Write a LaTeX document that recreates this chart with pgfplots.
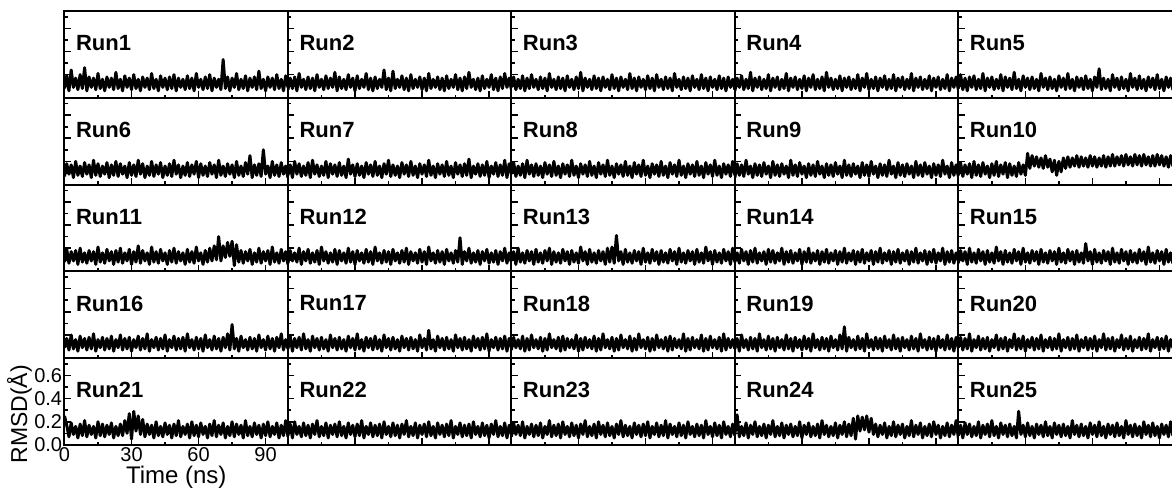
\documentclass[border=0pt]{standalone}
\usepackage{pgfplots}
\pgfplotsset{compat=1.18}
\usepackage{pgfplotstable}
\usepgfplotslibrary{groupplots}
\usetikzlibrary{calc}
\usepackage{fontspec}
\setmainfont{Liberation Sans}

% RMSD traces, one table per row of panels (columns a..e = five runs)
\pgfplotstableread{
t a b c d e
0 0.08 0.07 0.09 0.06 0.08
1 0.19 0.17 0.18 0.17 0.20
2 0.06 0.08 0.07 0.09 0.07
3 0.24 0.18 0.16 0.19 0.17
4 0.09 0.06 0.08 0.07 0.06
5 0.17 0.21 0.19 0.16 0.18
6 0.07 0.09 0.06 0.08 0.09
7 0.20 0.16 0.17 0.22 0.19
8 0.08 0.07 0.08 0.06 0.07
9 0.26 0.18 0.20 0.17 0.16
10 0.06 0.08 0.09 0.09 0.08
11 0.18 0.17 0.16 0.18 0.21
12 0.09 0.06 0.07 0.07 0.06
13 0.17 0.20 0.18 0.16 0.17
14 0.07 0.09 0.08 0.08 0.09
15 0.21 0.16 0.17 0.20 0.18
16 0.08 0.07 0.06 0.06 0.07
17 0.16 0.19 0.21 0.17 0.16
18 0.06 0.08 0.09 0.09 0.08
19 0.18 0.17 0.16 0.18 0.20
20 0.09 0.09 0.07 0.07 0.06
21 0.17 0.22 0.18 0.16 0.18
22 0.07 0.06 0.08 0.08 0.09
23 0.22 0.18 0.17 0.21 0.17
24 0.08 0.08 0.06 0.06 0.07
25 0.16 0.16 0.19 0.17 0.22
26 0.06 0.07 0.09 0.09 0.08
27 0.19 0.20 0.16 0.18 0.16
28 0.09 0.09 0.07 0.07 0.06
29 0.17 0.17 0.18 0.16 0.19
30 0.07 0.06 0.08 0.08 0.09
31 0.20 0.19 0.22 0.19 0.17
32 0.08 0.08 0.06 0.06 0.07
33 0.16 0.16 0.17 0.17 0.18
34 0.06 0.09 0.09 0.09 0.08
35 0.18 0.21 0.16 0.20 0.16
36 0.09 0.07 0.07 0.07 0.06
37 0.17 0.17 0.19 0.16 0.21
38 0.07 0.06 0.08 0.08 0.09
39 0.21 0.18 0.17 0.18 0.17
40 0.08 0.08 0.06 0.06 0.07
41 0.16 0.16 0.18 0.22 0.18
42 0.06 0.09 0.09 0.09 0.08
43 0.19 0.24 0.16 0.17 0.16
44 0.09 0.07 0.07 0.07 0.06
45 0.17 0.17 0.20 0.16 0.19
46 0.07 0.06 0.08 0.08 0.09
47 0.18 0.23 0.17 0.19 0.17
48 0.08 0.08 0.06 0.06 0.07
49 0.20 0.16 0.18 0.17 0.21
50 0.06 0.09 0.09 0.09 0.08
51 0.17 0.19 0.16 0.18 0.16
52 0.09 0.07 0.07 0.07 0.06
53 0.16 0.17 0.21 0.16 0.18
54 0.07 0.06 0.08 0.08 0.09
55 0.19 0.20 0.17 0.20 0.17
56 0.08 0.08 0.06 0.06 0.07
57 0.17 0.16 0.18 0.17 0.19
58 0.06 0.09 0.09 0.09 0.08
59 0.21 0.18 0.16 0.21 0.16
60 0.09 0.07 0.07 0.07 0.06
61 0.16 0.17 0.19 0.16 0.18
62 0.07 0.06 0.08 0.08 0.09
63 0.18 0.21 0.17 0.18 0.25
64 0.08 0.08 0.06 0.06 0.07
65 0.20 0.16 0.20 0.17 0.17
66 0.06 0.09 0.09 0.09 0.08
67 0.17 0.18 0.16 0.19 0.16
68 0.09 0.07 0.07 0.07 0.06
69 0.16 0.17 0.18 0.16 0.20
70 0.07 0.06 0.08 0.08 0.09
71 0.33 0.19 0.17 0.20 0.17
72 0.08 0.08 0.06 0.06 0.07
73 0.18 0.16 0.21 0.17 0.18
74 0.06 0.09 0.09 0.09 0.08
75 0.17 0.20 0.16 0.18 0.16
76 0.09 0.07 0.07 0.07 0.06
77 0.21 0.17 0.18 0.16 0.21
78 0.07 0.06 0.08 0.08 0.09
79 0.16 0.18 0.17 0.21 0.17
80 0.08 0.08 0.06 0.06 0.07
81 0.19 0.22 0.19 0.17 0.19
82 0.06 0.09 0.09 0.09 0.08
83 0.17 0.16 0.16 0.18 0.16
84 0.09 0.07 0.07 0.07 0.06
85 0.18 0.17 0.20 0.16 0.18
86 0.07 0.06 0.08 0.08 0.09
87 0.23 0.19 0.17 0.19 0.17
88 0.08 0.08 0.06 0.06 0.07
89 0.16 0.16 0.18 0.17 0.20
90 0.06 0.09 0.09 0.09 0.08
91 0.18 0.20 0.16 0.18 0.16
92 0.09 0.07 0.07 0.07 0.06
93 0.17 0.17 0.19 0.16 0.18
94 0.07 0.06 0.08 0.08 0.09
95 0.20 0.18 0.17 0.20 0.17
96 0.08 0.08 0.06 0.06 0.07
97 0.16 0.21 0.18 0.17 0.19
98 0.06 0.09 0.09 0.09 0.08
99 0.19 0.17 0.16 0.18 0.16
100 0.09 0.07 0.07 0.07 0.06
}\rowA

\pgfplotstableread{
t a b c d e
0 0.07 0.08 0.09 0.06 0.08
1 0.18 0.17 0.19 0.18 0.19
2 0.09 0.06 0.07 0.08 0.07
3 0.17 0.20 0.16 0.17 0.17
4 0.06 0.09 0.08 0.07 0.09
5 0.20 0.18 0.18 0.21 0.18
6 0.08 0.07 0.06 0.09 0.06
7 0.16 0.16 0.21 0.16 0.20
8 0.07 0.08 0.09 0.06 0.08
9 0.19 0.19 0.17 0.18 0.17
10 0.09 0.06 0.07 0.08 0.07
11 0.17 0.21 0.18 0.17 0.19
12 0.06 0.09 0.08 0.07 0.09
13 0.21 0.17 0.16 0.19 0.16
14 0.08 0.07 0.06 0.09 0.06
15 0.18 0.16 0.19 0.16 0.18
16 0.07 0.08 0.09 0.06 0.08
17 0.16 0.20 0.17 0.20 0.20
18 0.09 0.06 0.07 0.08 0.07
19 0.19 0.18 0.20 0.17 0.17
20 0.06 0.09 0.08 0.07 0.09
21 0.17 0.17 0.16 0.18 0.19
22 0.08 0.07 0.06 0.09 0.06
23 0.20 0.19 0.18 0.16 0.18
24 0.07 0.08 0.09 0.06 0.08
25 0.18 0.16 0.17 0.21 0.16
26 0.09 0.06 0.07 0.08 0.07
27 0.16 0.22 0.21 0.17 0.19
28 0.06 0.09 0.08 0.07 0.09
29 0.19 0.17 0.16 0.19 0.17
30 0.08 0.07 0.06 0.09 0.08
31 0.17 0.18 0.18 0.16 0.27
32 0.07 0.08 0.09 0.06 0.14
33 0.21 0.16 0.17 0.18 0.25
34 0.09 0.06 0.07 0.08 0.16
35 0.18 0.19 0.20 0.17 0.24
36 0.06 0.09 0.08 0.07 0.15
37 0.16 0.17 0.16 0.20 0.23
38 0.08 0.07 0.06 0.09 0.14
39 0.20 0.20 0.19 0.16 0.25
40 0.07 0.08 0.09 0.06 0.15
41 0.17 0.16 0.17 0.18 0.22
42 0.09 0.06 0.07 0.08 0.11
43 0.19 0.18 0.21 0.17 0.21
44 0.06 0.09 0.08 0.07 0.08
45 0.16 0.21 0.16 0.19 0.20
46 0.08 0.07 0.06 0.09 0.11
47 0.18 0.17 0.18 0.16 0.23
48 0.07 0.08 0.09 0.06 0.14
49 0.21 0.16 0.17 0.21 0.24
50 0.09 0.06 0.07 0.08 0.15
51 0.17 0.19 0.20 0.17 0.23
52 0.06 0.09 0.08 0.07 0.16
53 0.16 0.17 0.16 0.18 0.25
54 0.08 0.07 0.06 0.09 0.15
55 0.19 0.20 0.19 0.16 0.24
56 0.07 0.08 0.09 0.06 0.16
57 0.17 0.16 0.17 0.19 0.23
58 0.09 0.06 0.07 0.08 0.15
59 0.20 0.18 0.21 0.17 0.25
60 0.06 0.09 0.08 0.07 0.16
61 0.18 0.17 0.16 0.20 0.24
62 0.08 0.07 0.06 0.09 0.15
63 0.16 0.21 0.18 0.16 0.23
64 0.07 0.08 0.09 0.06 0.16
65 0.19 0.16 0.17 0.18 0.25
66 0.09 0.06 0.07 0.08 0.15
67 0.17 0.18 0.20 0.17 0.24
68 0.06 0.09 0.08 0.07 0.16
69 0.21 0.17 0.16 0.21 0.26
70 0.08 0.07 0.06 0.09 0.16
71 0.16 0.20 0.19 0.16 0.24
72 0.07 0.08 0.09 0.06 0.17
73 0.18 0.16 0.17 0.19 0.25
74 0.09 0.06 0.07 0.08 0.16
75 0.17 0.19 0.21 0.17 0.26
76 0.06 0.09 0.08 0.07 0.17
77 0.20 0.17 0.16 0.18 0.24
78 0.08 0.07 0.06 0.09 0.16
79 0.16 0.18 0.18 0.16 0.26
80 0.07 0.08 0.09 0.06 0.17
81 0.19 0.22 0.17 0.20 0.25
82 0.09 0.06 0.07 0.08 0.16
83 0.25 0.16 0.20 0.17 0.26
84 0.06 0.09 0.08 0.07 0.17
85 0.17 0.18 0.16 0.19 0.24
86 0.08 0.07 0.06 0.09 0.16
87 0.18 0.17 0.19 0.16 0.25
88 0.07 0.08 0.09 0.06 0.16
89 0.30 0.20 0.17 0.18 0.26
90 0.09 0.06 0.07 0.08 0.17
91 0.16 0.16 0.21 0.17 0.25
92 0.06 0.09 0.08 0.07 0.16
93 0.20 0.19 0.16 0.21 0.24
94 0.08 0.07 0.06 0.09 0.15
95 0.17 0.17 0.18 0.16 0.25
96 0.07 0.08 0.09 0.06 0.16
97 0.19 0.21 0.17 0.19 0.24
98 0.09 0.06 0.07 0.08 0.15
99 0.16 0.18 0.20 0.17 0.25
100 0.06 0.09 0.08 0.07 0.16
}\rowB

\pgfplotstableread{
t a b c d e
0 0.08 0.07 0.09 0.08 0.07
1 0.19 0.18 0.17 0.16 0.18
2 0.07 0.09 0.06 0.07 0.09
3 0.17 0.16 0.20 0.19 0.17
4 0.09 0.08 0.08 0.09 0.06
5 0.18 0.20 0.16 0.17 0.20
6 0.06 0.06 0.07 0.06 0.08
7 0.20 0.17 0.18 0.18 0.16
8 0.08 0.09 0.09 0.08 0.07
9 0.16 0.19 0.17 0.20 0.19
10 0.07 0.07 0.06 0.07 0.09
11 0.18 0.16 0.19 0.16 0.17
12 0.09 0.08 0.08 0.09 0.06
13 0.17 0.18 0.16 0.17 0.18
14 0.06 0.06 0.07 0.06 0.08
15 0.21 0.21 0.18 0.19 0.16
16 0.08 0.09 0.09 0.08 0.07
17 0.16 0.17 0.20 0.18 0.21
18 0.07 0.07 0.06 0.07 0.09
19 0.19 0.16 0.17 0.16 0.17
20 0.09 0.08 0.08 0.09 0.06
21 0.17 0.19 0.16 0.20 0.18
22 0.06 0.06 0.07 0.06 0.08
23 0.18 0.18 0.19 0.17 0.16
24 0.08 0.09 0.09 0.08 0.07
25 0.20 0.16 0.17 0.18 0.19
26 0.07 0.07 0.06 0.07 0.09
27 0.16 0.20 0.18 0.16 0.17
28 0.09 0.08 0.08 0.09 0.06
29 0.19 0.17 0.16 0.19 0.20
30 0.06 0.06 0.07 0.06 0.08
31 0.17 0.18 0.21 0.17 0.16
32 0.08 0.09 0.09 0.08 0.07
33 0.22 0.16 0.17 0.20 0.18
34 0.07 0.07 0.06 0.07 0.09
35 0.18 0.19 0.19 0.16 0.17
36 0.09 0.08 0.08 0.09 0.06
37 0.16 0.17 0.16 0.18 0.19
38 0.06 0.06 0.07 0.06 0.08
39 0.21 0.21 0.18 0.17 0.16
40 0.08 0.09 0.09 0.08 0.07
41 0.17 0.16 0.17 0.19 0.18
42 0.07 0.07 0.06 0.07 0.09
43 0.19 0.18 0.20 0.16 0.17
44 0.09 0.08 0.08 0.09 0.06
45 0.16 0.17 0.21 0.18 0.20
46 0.06 0.06 0.07 0.06 0.08
47 0.18 0.19 0.31 0.17 0.16
48 0.08 0.09 0.09 0.08 0.07
49 0.20 0.16 0.17 0.20 0.19
50 0.07 0.07 0.06 0.07 0.09
51 0.17 0.18 0.19 0.16 0.17
52 0.09 0.08 0.08 0.09 0.06
53 0.16 0.20 0.16 0.18 0.18
54 0.06 0.06 0.07 0.06 0.08
55 0.19 0.17 0.18 0.17 0.16
56 0.08 0.09 0.09 0.08 0.07
57 0.17 0.16 0.17 0.19 0.24
58 0.07 0.07 0.06 0.07 0.09
59 0.21 0.19 0.20 0.16 0.17
60 0.09 0.08 0.08 0.09 0.06
61 0.16 0.17 0.16 0.18 0.19
62 0.06 0.06 0.07 0.06 0.08
63 0.18 0.21 0.19 0.17 0.16
64 0.08 0.09 0.09 0.08 0.07
65 0.20 0.16 0.17 0.20 0.18
66 0.09 0.07 0.06 0.07 0.09
67 0.22 0.18 0.18 0.16 0.17
68 0.10 0.08 0.08 0.09 0.06
69 0.30 0.17 0.16 0.18 0.20
70 0.09 0.06 0.07 0.06 0.08
71 0.22 0.19 0.19 0.17 0.16
72 0.12 0.09 0.09 0.08 0.07
73 0.25 0.16 0.17 0.19 0.19
74 0.13 0.07 0.06 0.07 0.09
75 0.26 0.18 0.20 0.16 0.17
76 0.05 0.08 0.08 0.09 0.06
77 0.23 0.29 0.16 0.18 0.18
78 0.08 0.06 0.07 0.06 0.08
79 0.18 0.17 0.18 0.17 0.16
80 0.07 0.09 0.09 0.08 0.07
81 0.17 0.20 0.17 0.20 0.19
82 0.09 0.07 0.06 0.07 0.09
83 0.19 0.16 0.19 0.16 0.17
84 0.06 0.08 0.08 0.09 0.06
85 0.16 0.18 0.16 0.18 0.21
86 0.08 0.06 0.07 0.06 0.08
87 0.20 0.17 0.21 0.17 0.16
88 0.07 0.09 0.09 0.08 0.07
89 0.17 0.19 0.17 0.19 0.18
90 0.09 0.07 0.06 0.07 0.09
91 0.18 0.16 0.18 0.16 0.17
92 0.06 0.08 0.08 0.09 0.06
93 0.21 0.18 0.16 0.20 0.19
94 0.08 0.06 0.07 0.06 0.08
95 0.16 0.17 0.19 0.17 0.16
96 0.07 0.09 0.09 0.08 0.07
97 0.19 0.20 0.17 0.18 0.20
98 0.09 0.07 0.06 0.07 0.09
99 0.17 0.16 0.20 0.16 0.17
100 0.06 0.08 0.08 0.09 0.06
}\rowC

\pgfplotstableread{
t a b c d e
0 0.09 0.08 0.07 0.08 0.09
1 0.17 0.19 0.18 0.17 0.18
2 0.07 0.06 0.09 0.06 0.07
3 0.20 0.17 0.16 0.20 0.17
4 0.08 0.09 0.08 0.09 0.08
5 0.16 0.18 0.19 0.16 0.21
6 0.06 0.07 0.06 0.07 0.06
7 0.19 0.21 0.17 0.18 0.16
8 0.09 0.08 0.07 0.08 0.09
9 0.17 0.16 0.20 0.17 0.19
10 0.07 0.06 0.09 0.06 0.07
11 0.18 0.19 0.16 0.21 0.17
12 0.08 0.09 0.08 0.09 0.08
13 0.21 0.17 0.18 0.16 0.18
14 0.06 0.07 0.06 0.07 0.06
15 0.16 0.18 0.17 0.19 0.16
16 0.09 0.08 0.07 0.08 0.09
17 0.18 0.16 0.21 0.17 0.20
18 0.07 0.06 0.09 0.06 0.07
19 0.17 0.20 0.16 0.18 0.17
20 0.08 0.09 0.08 0.09 0.08
21 0.19 0.17 0.18 0.16 0.18
22 0.06 0.07 0.06 0.07 0.06
23 0.16 0.18 0.19 0.20 0.16
24 0.09 0.08 0.07 0.08 0.09
25 0.20 0.16 0.17 0.17 0.21
26 0.07 0.06 0.09 0.06 0.07
27 0.17 0.19 0.16 0.18 0.17
28 0.08 0.09 0.08 0.09 0.08
29 0.18 0.17 0.20 0.16 0.19
30 0.06 0.07 0.06 0.07 0.06
31 0.16 0.21 0.17 0.19 0.16
32 0.09 0.08 0.07 0.08 0.09
33 0.19 0.16 0.18 0.17 0.18
34 0.07 0.06 0.09 0.06 0.07
35 0.17 0.18 0.16 0.21 0.17
36 0.08 0.09 0.08 0.09 0.08
37 0.21 0.17 0.19 0.16 0.20
38 0.06 0.07 0.06 0.07 0.06
39 0.16 0.19 0.17 0.18 0.16
40 0.09 0.08 0.07 0.08 0.09
41 0.18 0.16 0.21 0.17 0.18
42 0.07 0.06 0.09 0.06 0.07
43 0.17 0.20 0.16 0.19 0.17
44 0.08 0.09 0.08 0.09 0.08
45 0.20 0.17 0.18 0.16 0.21
46 0.06 0.07 0.06 0.07 0.06
47 0.16 0.18 0.17 0.20 0.16
48 0.09 0.08 0.07 0.08 0.09
49 0.19 0.16 0.20 0.27 0.18
50 0.07 0.06 0.09 0.06 0.07
51 0.17 0.19 0.16 0.18 0.17
52 0.08 0.09 0.08 0.09 0.08
53 0.18 0.17 0.19 0.16 0.20
54 0.06 0.07 0.06 0.07 0.06
55 0.21 0.18 0.17 0.19 0.16
56 0.09 0.08 0.07 0.08 0.09
57 0.16 0.16 0.21 0.17 0.18
58 0.07 0.06 0.09 0.06 0.07
59 0.18 0.20 0.16 0.21 0.17
60 0.08 0.09 0.08 0.09 0.08
61 0.17 0.17 0.18 0.16 0.19
62 0.06 0.07 0.06 0.07 0.06
63 0.20 0.24 0.17 0.18 0.16
64 0.09 0.08 0.07 0.08 0.09
65 0.16 0.16 0.20 0.17 0.21
66 0.07 0.06 0.09 0.06 0.07
67 0.19 0.19 0.16 0.19 0.17
68 0.08 0.09 0.08 0.09 0.08
69 0.17 0.17 0.18 0.16 0.18
70 0.06 0.07 0.06 0.07 0.06
71 0.18 0.18 0.19 0.20 0.16
72 0.09 0.08 0.07 0.08 0.09
73 0.21 0.16 0.17 0.17 0.20
74 0.07 0.06 0.09 0.06 0.07
75 0.29 0.20 0.16 0.18 0.17
76 0.08 0.09 0.08 0.09 0.08
77 0.17 0.17 0.21 0.16 0.19
78 0.06 0.07 0.06 0.07 0.06
79 0.19 0.18 0.17 0.19 0.16
80 0.09 0.08 0.07 0.08 0.09
81 0.16 0.16 0.18 0.17 0.18
82 0.07 0.06 0.09 0.06 0.07
83 0.18 0.19 0.16 0.21 0.17
84 0.08 0.09 0.08 0.09 0.08
85 0.17 0.17 0.20 0.16 0.21
86 0.06 0.07 0.06 0.07 0.06
87 0.20 0.18 0.17 0.18 0.16
88 0.09 0.08 0.07 0.08 0.09
89 0.16 0.21 0.19 0.17 0.18
90 0.07 0.06 0.09 0.06 0.07
91 0.19 0.16 0.16 0.19 0.17
92 0.08 0.09 0.08 0.09 0.08
93 0.17 0.18 0.18 0.16 0.19
94 0.06 0.07 0.06 0.07 0.06
95 0.18 0.17 0.21 0.20 0.16
96 0.09 0.08 0.07 0.08 0.09
97 0.21 0.19 0.17 0.17 0.20
98 0.07 0.06 0.09 0.06 0.07
99 0.16 0.17 0.16 0.18 0.17
100 0.08 0.09 0.08 0.09 0.08
}\rowD

\pgfplotstableread{
t a b c d e
0 0.25 0.08 0.07 0.09 0.08
1 0.17 0.18 0.19 0.26 0.17
2 0.07 0.06 0.09 0.07 0.06
3 0.19 0.20 0.17 0.16 0.19
4 0.09 0.09 0.08 0.08 0.09
5 0.16 0.16 0.20 0.19 0.18
6 0.06 0.07 0.06 0.06 0.07
7 0.18 0.19 0.16 0.17 0.16
8 0.08 0.08 0.09 0.09 0.08
9 0.21 0.17 0.18 0.20 0.20
10 0.07 0.06 0.07 0.07 0.06
11 0.17 0.18 0.17 0.16 0.17
12 0.09 0.09 0.08 0.08 0.09
13 0.16 0.21 0.19 0.18 0.18
14 0.06 0.07 0.06 0.06 0.07
15 0.20 0.16 0.16 0.17 0.21
16 0.08 0.08 0.09 0.09 0.08
17 0.18 0.19 0.21 0.21 0.16
18 0.07 0.06 0.07 0.07 0.06
19 0.17 0.17 0.17 0.16 0.19
20 0.09 0.09 0.08 0.08 0.09
21 0.19 0.18 0.18 0.19 0.17
22 0.06 0.07 0.06 0.06 0.07
23 0.16 0.20 0.20 0.17 0.18
24 0.08 0.08 0.09 0.09 0.08
25 0.18 0.16 0.16 0.18 0.16
26 0.08 0.06 0.07 0.07 0.06
27 0.21 0.19 0.19 0.16 0.29
28 0.10 0.09 0.08 0.08 0.09
29 0.27 0.17 0.17 0.20 0.17
30 0.05 0.07 0.06 0.06 0.07
31 0.29 0.18 0.18 0.17 0.19
32 0.12 0.08 0.09 0.09 0.08
33 0.25 0.21 0.21 0.19 0.16
34 0.09 0.06 0.07 0.07 0.06
35 0.22 0.16 0.16 0.16 0.18
36 0.07 0.09 0.08 0.08 0.09
37 0.18 0.19 0.18 0.18 0.17
38 0.09 0.07 0.06 0.06 0.07
39 0.17 0.17 0.20 0.21 0.20
40 0.06 0.08 0.09 0.09 0.08
41 0.20 0.18 0.17 0.17 0.16
42 0.08 0.06 0.07 0.07 0.06
43 0.16 0.20 0.19 0.16 0.19
44 0.07 0.09 0.08 0.08 0.09
45 0.19 0.16 0.16 0.19 0.17
46 0.09 0.07 0.06 0.06 0.07
47 0.17 0.19 0.18 0.17 0.18
48 0.06 0.08 0.09 0.09 0.08
49 0.18 0.17 0.21 0.20 0.16
50 0.08 0.06 0.07 0.07 0.06
51 0.21 0.18 0.17 0.18 0.21
52 0.07 0.09 0.08 0.08 0.09
53 0.16 0.21 0.16 0.23 0.17
54 0.09 0.07 0.06 0.05 0.07
55 0.18 0.16 0.19 0.25 0.18
56 0.06 0.08 0.09 0.12 0.08
57 0.20 0.19 0.17 0.24 0.16
58 0.08 0.06 0.07 0.13 0.06
59 0.17 0.17 0.18 0.25 0.19
60 0.07 0.09 0.08 0.11 0.09
61 0.19 0.18 0.20 0.23 0.17
62 0.09 0.07 0.06 0.09 0.07
63 0.16 0.20 0.16 0.18 0.20
64 0.06 0.08 0.09 0.07 0.08
65 0.18 0.16 0.19 0.17 0.16
66 0.08 0.06 0.07 0.09 0.06
67 0.21 0.19 0.17 0.19 0.18
68 0.07 0.09 0.08 0.06 0.09
69 0.17 0.17 0.21 0.16 0.17
70 0.09 0.07 0.06 0.08 0.07
71 0.19 0.18 0.18 0.20 0.19
72 0.06 0.08 0.09 0.07 0.08
73 0.16 0.21 0.16 0.17 0.16
74 0.08 0.06 0.07 0.09 0.06
75 0.20 0.16 0.19 0.18 0.21
76 0.07 0.09 0.08 0.06 0.09
77 0.18 0.19 0.17 0.16 0.17
78 0.09 0.07 0.06 0.08 0.07
79 0.17 0.17 0.20 0.21 0.18
80 0.06 0.08 0.09 0.07 0.08
81 0.21 0.18 0.16 0.17 0.16
82 0.08 0.06 0.07 0.09 0.06
83 0.16 0.20 0.18 0.19 0.20
84 0.07 0.09 0.08 0.06 0.09
85 0.19 0.16 0.17 0.16 0.17
86 0.09 0.07 0.06 0.08 0.07
87 0.17 0.19 0.21 0.18 0.19
88 0.06 0.08 0.09 0.07 0.08
89 0.18 0.17 0.16 0.20 0.16
90 0.08 0.06 0.07 0.09 0.06
91 0.20 0.18 0.19 0.17 0.18
92 0.07 0.09 0.08 0.06 0.09
93 0.16 0.21 0.17 0.16 0.17
94 0.09 0.07 0.06 0.08 0.07
95 0.19 0.16 0.20 0.19 0.20
96 0.06 0.08 0.09 0.07 0.08
97 0.17 0.19 0.16 0.17 0.16
98 0.08 0.06 0.07 0.09 0.06
99 0.21 0.17 0.18 0.21 0.19
100 0.07 0.09 0.08 0.06 0.09
}\rowE

\pgfplotsset{
  trace/.style={black, line width=1.5pt, line join=round, no marks},
}
\tikzset{
  runlabel/.style={anchor=west, inner sep=0pt,
    font=\bfseries\fontsize{11}{12}\selectfont},
}

% one panel: #1 table, #2 column, #3 run label
\newcommand{\runpanel}[3]{%
  \addplot[trace] table[x=t, y=#2] {#1};
  \node[runlabel] at (rel axis cs:0.05,0.63) {#3};
}

\begin{document}
\begin{tikzpicture}
\begin{groupplot}[
  group style={group size=5 by 5, horizontal sep=0pt, vertical sep=0pt},
  scale only axis, width=111.75pt, height=43.4pt,
  xmin=0, xmax=100, ymin=0, ymax=0.75,
  xtick={0,30,60,90}, minor xtick={15,45,75},
  ytick={0,0.2,0.4,0.6}, minor ytick={0.1,0.3,0.5,0.7},
  xticklabels={}, yticklabels={},
  xtick pos=bottom, ytick pos=left,
  tick align=inside,
  major tick length=3.2pt, minor tick length=1.6pt,
  every tick/.style={black, line width=0.8pt},
  axis line style={line width=1pt},
  tick label style={font=\fontsize{10}{11}\selectfont},
  xticklabel style={inner ysep=1pt},
  yticklabel style={inner xsep=1pt},
]
\nextgroupplot \runpanel{\rowA}{a}{Run1}
\nextgroupplot \runpanel{\rowA}{b}{Run2}
\nextgroupplot \runpanel{\rowA}{c}{Run3}
\nextgroupplot \runpanel{\rowA}{d}{Run4}
\nextgroupplot \runpanel{\rowA}{e}{Run5}
\nextgroupplot \runpanel{\rowB}{a}{Run6}
\nextgroupplot \runpanel{\rowB}{b}{Run7}
\nextgroupplot \runpanel{\rowB}{c}{Run8}
\nextgroupplot \runpanel{\rowB}{d}{Run9}
\nextgroupplot \runpanel{\rowB}{e}{Run10}
\nextgroupplot \runpanel{\rowC}{a}{Run11}
\nextgroupplot \runpanel{\rowC}{b}{Run12}
\nextgroupplot \runpanel{\rowC}{c}{Run13}
\nextgroupplot \runpanel{\rowC}{d}{Run14}
\nextgroupplot \runpanel{\rowC}{e}{Run15}
\nextgroupplot \runpanel{\rowD}{a}{Run16}
\nextgroupplot \runpanel{\rowD}{b}{Run17}
\nextgroupplot \runpanel{\rowD}{c}{Run18}
\nextgroupplot \runpanel{\rowD}{d}{Run19}
\nextgroupplot \runpanel{\rowD}{e}{Run20}
\nextgroupplot[
  xticklabels={0,30,60,90},
  yticklabels={0.0,0.2,0.4,0.6},
  xlabel={Time (ns)}, ylabel={RMSD(Å)},
  xlabel style={font=\fontsize{12}{13}\selectfont, inner sep=0pt, yshift=-1pt},
  ylabel style={font=\fontsize{11.5}{13}\selectfont, at={(ticklabel cs:0.4)},
    inner sep=0pt, xshift=-2pt},
] \runpanel{\rowE}{a}{Run21}
\nextgroupplot \runpanel{\rowE}{b}{Run22}
\nextgroupplot \runpanel{\rowE}{c}{Run23}
\nextgroupplot \runpanel{\rowE}{d}{Run24}
\nextgroupplot \runpanel{\rowE}{e}{Run25}
\end{groupplot}
% page frame: margin for the labels on the left and below, last column trimmed on the right
\pgfresetboundingbox
\path[use as bounding box]
  ($(group c1r1.north west)+(-32.25pt,5.5pt)$)
  rectangle ($(group c5r5.south west)+(106.85pt,-22pt)$);
\end{tikzpicture}
\end{document}
